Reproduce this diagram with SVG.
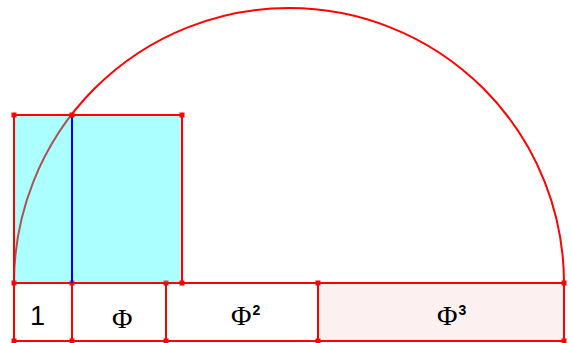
<svg xmlns="http://www.w3.org/2000/svg" width="571" height="343" viewBox="0 0 571 343">
<defs>
<style>
.ln{stroke:#ff0000;stroke-width:2;fill:none}
.box{stroke:#ff0000;stroke-width:2;fill:#ffffff}
.pt{fill:#ff0000}
.lbl{font-family:"Liberation Serif",serif;font-size:28px;fill:#000}
.sup{font-family:"Liberation Sans",sans-serif;font-weight:bold;font-size:14px}
.num{font-family:"Liberation Sans",sans-serif;font-size:27px;fill:#000}
</style>
</defs>
<rect width="571" height="343" fill="#ffffff"/>
<g id="semicircle">
<path class="ln" d="M14,283 A275,275 0 0 1 564,283"/>
</g>
<g id="segments">
<rect id="seg1" class="box" x="14" y="283" width="58" height="58"/>
<rect id="seg2" class="box" x="72" y="283" width="94" height="58"/>
<rect id="seg3" class="box" x="166" y="283" width="152" height="58"/>
<rect id="seg4" class="box" x="318" y="283" width="246" height="58" style="fill:#fdf0f0"/>
</g>
<g id="points">
<rect class="pt" x="11.5" y="280.5" width="5" height="5"/>
<rect class="pt" x="69.5" y="280.5" width="5" height="5"/>
<rect class="pt" x="163.5" y="280.5" width="5" height="5"/>
<rect class="pt" x="315.5" y="280.5" width="5" height="5"/>
<rect class="pt" x="561.5" y="280.5" width="5" height="5"/>
<rect class="pt" x="11.5" y="338.5" width="5" height="5"/>
<rect class="pt" x="69.5" y="338.5" width="5" height="5"/>
<rect class="pt" x="163.5" y="338.5" width="5" height="5"/>
<rect class="pt" x="315.5" y="338.5" width="5" height="5"/>
<rect class="pt" x="561.5" y="338.5" width="5" height="5"/>
</g>
<g id="square">
<rect x="14" y="115" width="168" height="168" fill="#00ffff" fill-opacity="0.33"/>
<rect class="ln" x="14" y="115" width="168" height="168"/>
<line x1="72" y1="115" x2="72" y2="283" stroke="#0000ff" stroke-width="2"/>
<rect class="pt" x="11.5" y="112.5" width="5" height="5"/>
<rect class="pt" x="179.5" y="112.5" width="5" height="5"/>
<rect class="pt" x="69.5" y="112.5" width="5" height="5"/>
<rect class="pt" x="179.5" y="280.5" width="5" height="5"/>
</g>
<g id="labels">
<text class="num" x="30" y="325">1</text>
<text class="lbl" x="112" y="328">Φ</text>
<text class="lbl" x="231" y="325">Φ<tspan class="sup" dx="1" dy="-10">2</tspan></text>
<text class="lbl" x="437" y="325">Φ<tspan class="sup" dx="1" dy="-10">3</tspan></text>
</g>
</svg>
